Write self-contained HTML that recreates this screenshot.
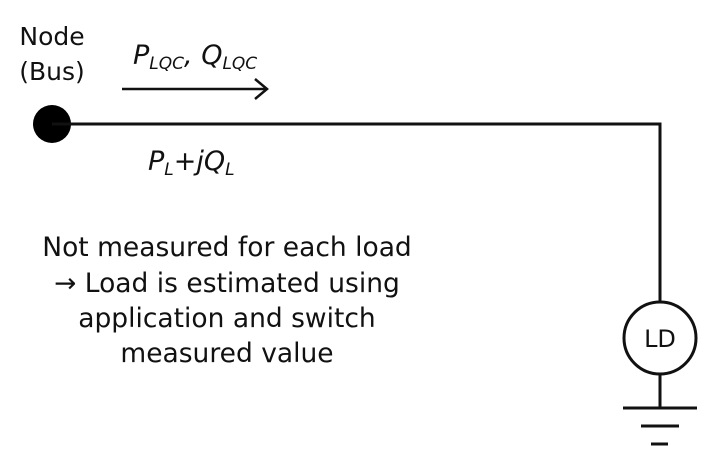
<!DOCTYPE html>
<html><head><style>
body{margin:0;background:#fff;}
svg text{font-family:"DejaVu Sans","Liberation Sans",sans-serif;fill:#111;}
</style></head><body>
<svg width="713" height="461" viewBox="0 0 713 461" xmlns="http://www.w3.org/2000/svg">
<text x="52" y="45" font-size="25" text-anchor="middle">Node</text>
<text x="52" y="80" font-size="25" text-anchor="middle">(Bus)</text>
<text x="133" y="64" font-size="27" font-style="italic">P<tspan font-size="17" dy="5">LQC</tspan><tspan dy="-5">, Q</tspan><tspan font-size="17" dy="5">LQC</tspan></text>
<line x1="122" y1="89" x2="266" y2="89" stroke="#111" stroke-width="2.5"/>
<polyline points="255,79 267,89 255,99" fill="none" stroke="#111" stroke-width="2.5"/>
<circle cx="52" cy="124" r="19" fill="#000"/>
<polyline points="52,124 660,124 660,302" fill="none" stroke="#111" stroke-width="3"/>
<text x="148" y="170" font-size="27" font-style="italic">P<tspan font-size="17" dy="5">L</tspan><tspan dy="-5">+jQ</tspan><tspan font-size="17" dy="5">L</tspan></text>
<g font-size="26.5" text-anchor="middle">
<text x="227" y="256">Not measured for each load</text>
<text x="227" y="292">→ Load is estimated using</text>
<text x="227" y="327">application and switch</text>
<text x="227" y="362">measured value</text>
</g>
<circle cx="660" cy="338" r="36" fill="none" stroke="#111" stroke-width="3"/>
<text x="660" y="347" font-size="24" text-anchor="middle">LD</text>
<line x1="660" y1="374" x2="660" y2="408" stroke="#111" stroke-width="3"/>
<line x1="623" y1="408" x2="697" y2="408" stroke="#111" stroke-width="3"/>
<line x1="641" y1="426" x2="679" y2="426" stroke="#111" stroke-width="3"/>
<line x1="651" y1="444" x2="668" y2="444" stroke="#111" stroke-width="3"/>
</svg>
</body></html>
